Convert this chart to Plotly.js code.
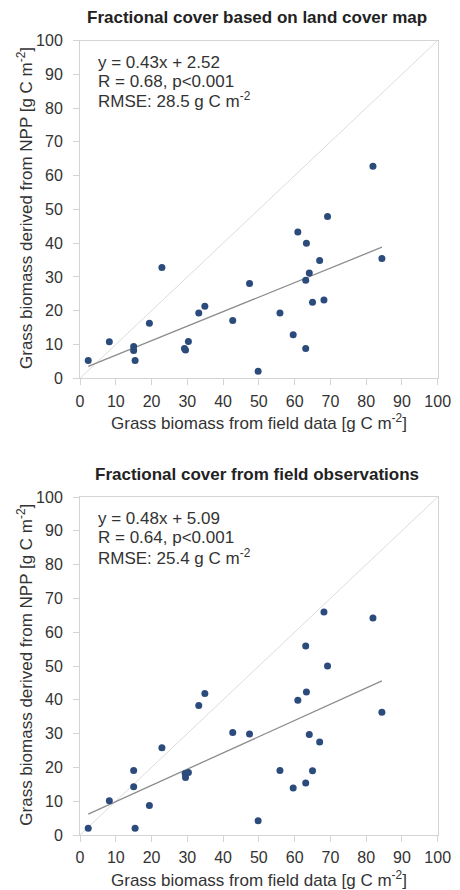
<!DOCTYPE html>
<html>
<head>
<meta charset="utf-8">
<script src="https://cdn.plot.ly/plotly-3.0.1.min.js"></script>
<style>html,body{margin:0;padding:0;background:#fff;}#chart{width:460px;height:890px;}</style>
</head>
<body>
<div id="chart"></div>
<script>
// Field data (x) shared by both panels
const fieldBiomass = [2.3, 8.2, 15.0, 15.0, 15.4, 19.4, 22.9, 29.2, 29.5, 30.3, 33.2, 34.9, 42.7, 47.4, 49.8, 55.9, 59.6, 60.9, 63.1, 63.1, 63.3, 64.1, 65.0, 67.0, 68.2, 69.2, 81.9, 84.4];
// Panel 1: fractional cover based on land cover map
const nppLandCover = [5.3, 10.8, 9.4, 8.2, 5.3, 16.3, 32.8, 8.8, 8.4, 10.9, 19.3, 21.3, 17.1, 28.1, 2.1, 19.3, 12.9, 43.3, 29.0, 8.8, 40.0, 31.2, 22.5, 34.9, 23.2, 47.9, 62.8, 35.5];
// Panel 2: fractional cover from field observations
const fieldBiomass2 = [2.3, 8.2, 15.0, 15.0, 15.4, 19.4, 22.9, 29.4, 29.5, 30.3, 33.2, 34.9, 42.7, 47.4, 49.8, 55.9, 59.6, 60.9, 63.1, 63.1, 63.3, 64.1, 65.0, 67.0, 68.2, 69.2, 81.9, 84.4];
const nppFieldObs = [2.0, 10.1, 19.1, 14.3, 2.0, 8.7, 25.8, 18.2, 17.0, 18.5, 38.3, 41.9, 30.3, 29.9, 4.2, 19.1, 13.9, 39.9, 55.9, 15.4, 42.3, 29.7, 19.0, 27.5, 66.0, 50.0, 64.2, 36.3];
// Fit parameters [slope, intercept]
const fitLandCover = [0.43, 2.52];
const fitFieldObs = [0.48, 5.09];
const oneToOne = [0, 100];
const panelTitles = ["Fractional cover based on land cover map", "Fractional cover from field observations"];
const statsLandCover = ["y = 0.43x + 2.52", "R = 0.68, p<0.001", "RMSE: 28.5 g C m<sup>-2</sup>"];
const statsFieldObs = ["y = 0.48x + 5.09", "R = 0.64, p<0.001", "RMSE: 25.4 g C m<sup>-2</sup>"];
const xTitle = "Grass biomass from field data [g C m<sup>-2</sup>]";
const yTitle = "Grass biomass derived from NPP [g C m<sup>-2</sup>]";

const W = 460, H = 890;
const FONT = "Liberation Sans, Arial, sans-serif";
const TXT = "#333333";
const px = v => v / W;
const py = v => 1 - v / H;

function fitLine(xs, p) {
  const lo = Math.min(...xs), hi = Math.max(...xs);
  return {x: [lo, hi], y: [p[0] * lo + p[1], p[0] * hi + p[1]]};
}

function panel(xs, ys, fit, xa, ya) {
  const fl = fitLine(xs, fit);
  return [
    {x: oneToOne, y: oneToOne, mode: "lines", line: {color: "#dcdcdc", width: 1}, xaxis: xa, yaxis: ya, hoverinfo: "skip"},
    {x: fl.x, y: fl.y, mode: "lines", line: {color: "#8c8c8c", width: 1.3}, xaxis: xa, yaxis: ya, hoverinfo: "skip"},
    {x: xs, y: ys, mode: "markers", marker: {color: "#2b4b7c", size: 7}, xaxis: xa, yaxis: ya}
  ];
}

const data = [].concat(
  panel(fieldBiomass, nppLandCover, fitLandCover, "x", "y"),
  panel(fieldBiomass2, nppFieldObs, fitFieldObs, "x2", "y2")
);

function axis(extra) {
  return Object.assign({
    range: [0, 100], dtick: 10, tick0: 0, showgrid: false, zeroline: false,
    showline: true, linecolor: "#d4d4d4", linewidth: 1, mirror: true,
    ticks: "outside", ticklen: 6, tickcolor: "#d4d4d4",
    tickfont: {family: FONT, size: 16, color: TXT}, automargin: false, fixedrange: true
  }, extra);
}

const xDom = [px(80), px(437.7)];
const layout = {
  width: W, height: H, margin: {l: 0, r: 0, t: 0, b: 0},
  paper_bgcolor: "#fff", plot_bgcolor: "#fff", showlegend: false,
  font: {family: FONT, color: TXT},
  xaxis: axis({domain: xDom, anchor: "y", ticklabelstandoff: 2}),
  yaxis: axis({domain: [py(378.3), py(40.5)], anchor: "x", ticklabelstandoff: 7}),
  xaxis2: axis({domain: xDom, anchor: "y2", ticklabelstandoff: 2}),
  yaxis2: axis({domain: [py(835), py(497)], anchor: "x2", ticklabelstandoff: 7}),
  annotations: []
};

function addText(text, x, y, opts) {
  layout.annotations.push(Object.assign({
    text: text, xref: "paper", yref: "paper", x: px(x), y: py(y),
    xanchor: "center", yanchor: "middle", showarrow: false,
    font: {family: FONT, size: 17, color: TXT}
  }, opts || {}));
}

[statsLandCover, statsFieldObs].forEach((stats, i) => {
  const off = i === 0 ? 0 : 456.7;
  addText("<b>" + panelTitles[i] + "</b>", 257, 18 + off, {font: {family: FONT, size: 17, color: "#222"}});
  stats.forEach((s, k) => addText(s, 96, 62 + off + k * 19, {xanchor: "left", font: {family: FONT, size: 17, color: TXT}}));
  addText(xTitle, 259, 422 + off);
  addText(yTitle, 25, 208 + off, {textangle: -90});
});

Plotly.newPlot("chart", data, layout, {displayModeBar: false, staticPlot: true});
</script>
</body>
</html>
